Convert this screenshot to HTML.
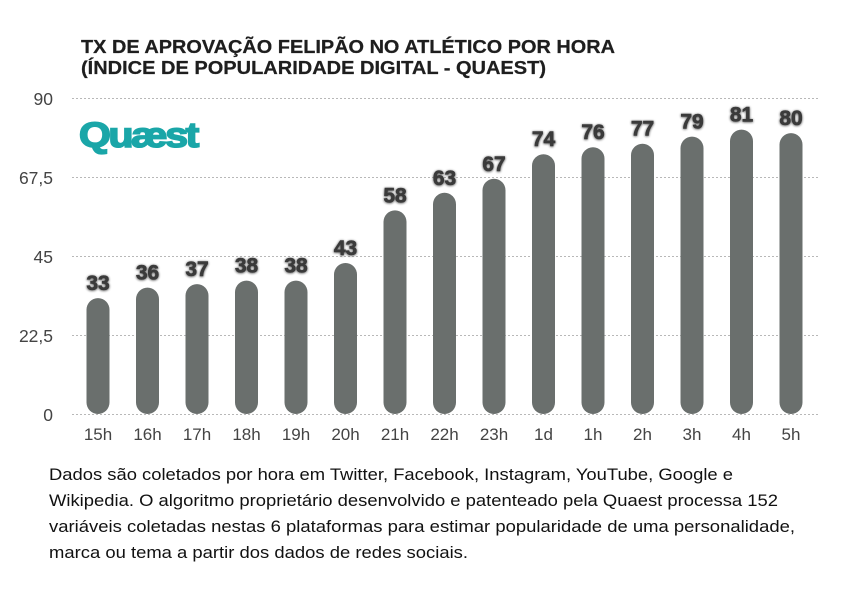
<!DOCTYPE html>
<html>
<head>
<meta charset="utf-8">
<style>
  html, body { margin: 0; padding: 0; background: #ffffff; }
  body { width: 849px; height: 603px; overflow: hidden; }
  svg { display: block; }
  .t { font-family: "Liberation Sans", Arial, sans-serif; }
</style>
</head>
<body>
<svg width="849" height="603" viewBox="0 0 849 603" xmlns="http://www.w3.org/2000/svg">
  <defs>
    <filter id="sh" x="-30%" y="-30%" width="160%" height="160%">
      <feGaussianBlur in="SourceAlpha" stdDeviation="1.3" result="b"/>
      <feOffset in="b" dx="0" dy="0.6" result="o"/>
      <feComponentTransfer in="o" result="o2"><feFuncA type="linear" slope="0.75"/></feComponentTransfer>
      <feMerge><feMergeNode in="o2"/><feMergeNode in="SourceGraphic"/></feMerge>
    </filter>
  </defs>

  <!-- Title -->
  <text class="t" x="81" y="53" font-size="18.5" font-weight="bold" fill="#1e1e1e" stroke="#1e1e1e" stroke-width="0.25" textLength="534" lengthAdjust="spacingAndGlyphs">TX DE APROVAÇÃO FELIPÃO NO ATLÉTICO POR HORA</text>
  <text class="t" x="81" y="74" font-size="18.5" font-weight="bold" fill="#1e1e1e" stroke="#1e1e1e" stroke-width="0.25" textLength="465" lengthAdjust="spacingAndGlyphs">(ÍNDICE DE POPULARIDADE DIGITAL - QUAEST)</text>

  <!-- Grid lines -->
  <g stroke="#b8b8b8" stroke-width="1" stroke-dasharray="2,2">
    <line x1="72" y1="98.5" x2="818" y2="98.5"/>
    <line x1="72" y1="177.5" x2="818" y2="177.5"/>
    <line x1="72" y1="256.5" x2="818" y2="256.5"/>
    <line x1="72" y1="335.5" x2="818" y2="335.5"/>
    <line x1="72" y1="414.5" x2="818" y2="414.5"/>
  </g>

  <!-- Y labels -->
  <g class="t" font-size="17.5" fill="#444" text-anchor="end">
    <text x="53" y="105">90</text>
    <text x="53" y="184">67,5</text>
    <text x="53" y="263">45</text>
    <text x="53" y="342">22,5</text>
    <text x="53" y="421">0</text>
  </g>

  <!-- Logo -->
  <text class="t" x="79" y="147" font-size="35" font-weight="bold" fill="#1aa6a8" stroke="#1aa6a8" stroke-width="1.6" letter-spacing="-2" textLength="118" lengthAdjust="spacingAndGlyphs">Quæst</text>

  <!-- Bars -->
  <g fill="#6a6f6d">
    <rect x="86.5" y="298.1" width="23" height="115.9" rx="11.5"/>
    <rect x="136" y="287.6" width="23" height="126.4" rx="11.5"/>
    <rect x="185.5" y="284.1" width="23" height="129.9" rx="11.5"/>
    <rect x="235" y="280.6" width="23" height="133.4" rx="11.5"/>
    <rect x="284.5" y="280.6" width="23" height="133.4" rx="11.5"/>
    <rect x="334" y="263.0" width="23" height="151.0" rx="11.5"/>
    <rect x="383.5" y="210.4" width="23" height="203.6" rx="11.5"/>
    <rect x="433" y="192.8" width="23" height="221.2" rx="11.5"/>
    <rect x="482.5" y="178.8" width="23" height="235.2" rx="11.5"/>
    <rect x="532" y="154.2" width="23" height="259.8" rx="11.5"/>
    <rect x="581.5" y="147.2" width="23" height="266.8" rx="11.5"/>
    <rect x="631" y="143.7" width="23" height="270.3" rx="11.5"/>
    <rect x="680.5" y="136.6" width="23" height="277.4" rx="11.5"/>
    <rect x="730" y="129.6" width="23" height="284.4" rx="11.5"/>
    <rect x="779.5" y="133.1" width="23" height="280.9" rx="11.5"/>
  </g>

  <!-- Value labels -->
  <g class="t" font-size="21" font-weight="bold" fill="#3a3a3a" stroke="#3a3a3a" stroke-width="0.6" text-anchor="middle" filter="url(#sh)">
    <text x="98" y="290">33</text>
    <text x="147.5" y="279.5">36</text>
    <text x="197" y="276">37</text>
    <text x="246.5" y="272.5">38</text>
    <text x="296" y="272.5">38</text>
    <text x="345.5" y="255">43</text>
    <text x="395" y="202.5">58</text>
    <text x="444.5" y="185">63</text>
    <text x="494" y="171">67</text>
    <text x="543.5" y="146">74</text>
    <text x="593" y="139">76</text>
    <text x="642.5" y="135.5">77</text>
    <text x="692" y="128.5">79</text>
    <text x="741.5" y="121.5">81</text>
    <text x="791" y="125">80</text>
  </g>

  <!-- X labels -->
  <g class="t" font-size="17" fill="#444" text-anchor="middle">
    <text x="98" y="440">15h</text>
    <text x="147.5" y="440">16h</text>
    <text x="197" y="440">17h</text>
    <text x="246.5" y="440">18h</text>
    <text x="296" y="440">19h</text>
    <text x="345.5" y="440">20h</text>
    <text x="395" y="440">21h</text>
    <text x="444.5" y="440">22h</text>
    <text x="494" y="440">23h</text>
    <text x="543.5" y="440">1d</text>
    <text x="593" y="440">1h</text>
    <text x="642.5" y="440">2h</text>
    <text x="692" y="440">3h</text>
    <text x="741.5" y="440">4h</text>
    <text x="791" y="440">5h</text>
  </g>

  <!-- Footer -->
  <g class="t" font-size="16.5" fill="#111">
    <text x="49" y="480" textLength="684" lengthAdjust="spacingAndGlyphs">Dados são coletados por hora em Twitter, Facebook, Instagram, YouTube, Google e</text>
    <text x="49" y="506" textLength="729" lengthAdjust="spacingAndGlyphs">Wikipedia. O algoritmo proprietário desenvolvido e patenteado pela Quaest processa 152</text>
    <text x="49" y="532" textLength="746" lengthAdjust="spacingAndGlyphs">variáveis coletadas nestas 6 plataformas para estimar popularidade de uma personalidade,</text>
    <text x="49" y="558" textLength="419" lengthAdjust="spacingAndGlyphs">marca ou tema a partir dos dados de redes sociais.</text>
  </g>
</svg>
</body>
</html>
